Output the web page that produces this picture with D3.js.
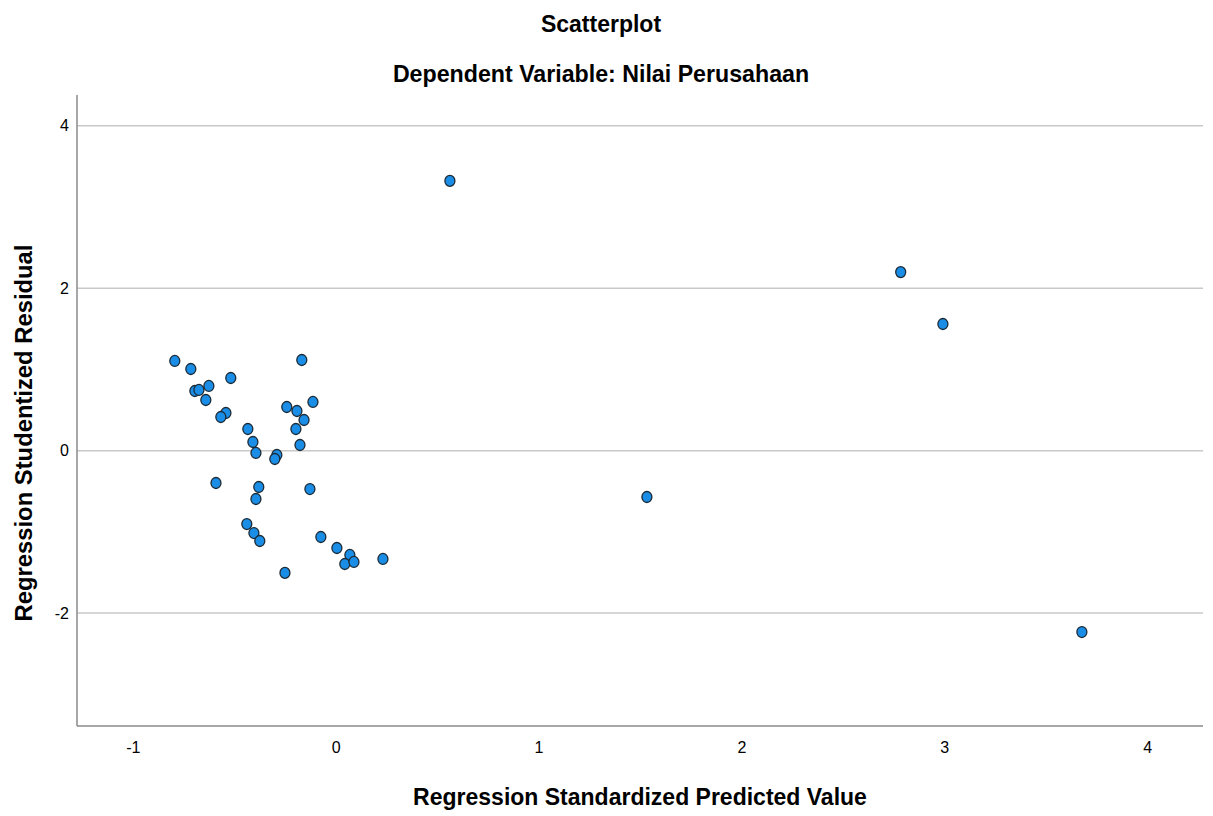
<!DOCTYPE html>
<html>
<head>
<meta charset="utf-8">
<script src="https://cdn.jsdelivr.net/npm/d3@7"></script>
<style>
  body { margin: 0; background: #fff; }
  text { font-family: "Liberation Sans", Arial, sans-serif; fill: #000; }
</style>
</head>
<body>
<section id="grafico"></section>
<script>
// predicted (x) and studentized residual (y)
const predicted = [
  -0.793, -0.714, -0.694, -0.674, -0.625, -0.640, -0.517, -0.541, -0.566, -0.433,
  -0.408, -0.393, -0.290, -0.300, -0.167, -0.112, -0.241, -0.191, -0.156, -0.196,
  -0.176, -0.590, -0.379, -0.393, -0.127, -0.438, -0.403, -0.374, -0.073, 0.006,
  0.070, 0.045, 0.090, 0.233, -0.250, 0.563, 2.785, 2.993, 1.534, 3.678
];
const residual = [
  1.105, 1.006, 0.735, 0.748, 0.797, 0.624, 0.895, 0.464, 0.415, 0.267,
  0.107, -0.028, -0.053, -0.102, 1.117, 0.600, 0.538, 0.489, 0.378, 0.267,
  0.070, -0.398, -0.447, -0.595, -0.472, -0.903, -1.014, -1.112, -1.063, -1.198,
  -1.284, -1.395, -1.370, -1.333, -1.505, 3.322, 2.199, 1.560, -0.570, -2.233
];
const xTicks = [-1, 0, 1, 2, 3, 4];
const yTicks = [-2, 0, 2, 4];

const title = "Scatterplot";
const subtitle = "Dependent Variable: Nilai Perusahaan";
const xTitle = "Regression Standardized Predicted Value";
const yTitle = "Regression Studentized Residual";

const width = 1213;
const height = 816;
const plotLeft = 77, plotRight = 1203, plotTop = 95, plotBottom = 726;

const svg = d3.select("section#grafico")
    .append("svg")
    .attr("width", width)
    .attr("height", height);

const xScale = d3.scaleLinear()
    .domain([-1.275, 4.275])
    .range([plotLeft, plotRight]);

const yScale = d3.scaleLinear()
    .domain([-3.39, 4.38])
    .range([plotBottom, plotTop]);

// gridlines
svg.append("g")
    .selectAll("line")
    .data(yTicks)
    .enter()
    .append("line")
    .attr("x1", plotLeft)
    .attr("x2", plotRight)
    .attr("y1", d => yScale(d))
    .attr("y2", d => yScale(d))
    .attr("stroke", "#c9c9c9")
    .attr("stroke-width", 1.5);

// axes (labels only, lines drawn by hand below)
const xAxis = d3.axisBottom(xScale).tickValues(xTicks).tickSize(0).tickPadding(16).tickFormat(d => String(d));
const yAxis = d3.axisLeft(yScale).tickValues(yTicks).tickSize(0).tickPadding(8).tickFormat(d => String(d));

const gx = svg.append("g")
    .attr("transform", `translate(0,${plotBottom})`)
    .call(xAxis);
const gy = svg.append("g")
    .attr("transform", `translate(${plotLeft},0)`)
    .call(yAxis);

[gx, gy].forEach(g => {
    g.select(".domain").remove();
    g.selectAll("text")
        .style("font-family", "'Liberation Sans', Arial, sans-serif")
        .style("font-size", "16px")
        .attr("fill", "#111");
});

svg.append("line")
    .attr("x1", plotLeft).attr("x2", plotLeft)
    .attr("y1", plotTop).attr("y2", plotBottom)
    .attr("stroke", "#8a8a8a").attr("stroke-width", 1.5);
svg.append("line")
    .attr("x1", plotLeft).attr("x2", plotRight)
    .attr("y1", plotBottom).attr("y2", plotBottom)
    .attr("stroke", "#8a8a8a").attr("stroke-width", 1.5);

// points
svg.append("g")
    .selectAll("ellipse")
    .data(predicted.map((x, i) => [x, residual[i]]))
    .enter()
    .append("ellipse")
    .attr("cx", d => xScale(d[0]))
    .attr("cy", d => yScale(d[1]))
    .attr("rx", 5)
    .attr("ry", 5.5)
    .attr("fill", "#1a8ee6")
    .attr("stroke", "#1c2a36")
    .attr("stroke-width", 1.3);

// titles
svg.append("text")
    .attr("x", 601).attr("y", 32)
    .attr("text-anchor", "middle")
    .style("font-size", "23px").style("font-weight", "bold")
    .text(title);

svg.append("text")
    .attr("x", 601).attr("y", 82)
    .attr("text-anchor", "middle")
    .style("font-size", "23.2px").style("font-weight", "bold")
    .text(subtitle);

svg.append("text")
    .attr("x", 640).attr("y", 805)
    .attr("text-anchor", "middle")
    .style("font-size", "23px").style("font-weight", "bold")
    .text(xTitle);

svg.append("text")
    .attr("transform", "translate(32,433) rotate(-90)")
    .attr("text-anchor", "middle")
    .style("font-size", "23.8px").style("font-weight", "bold")
    .text(yTitle);
</script>
</body>
</html>
